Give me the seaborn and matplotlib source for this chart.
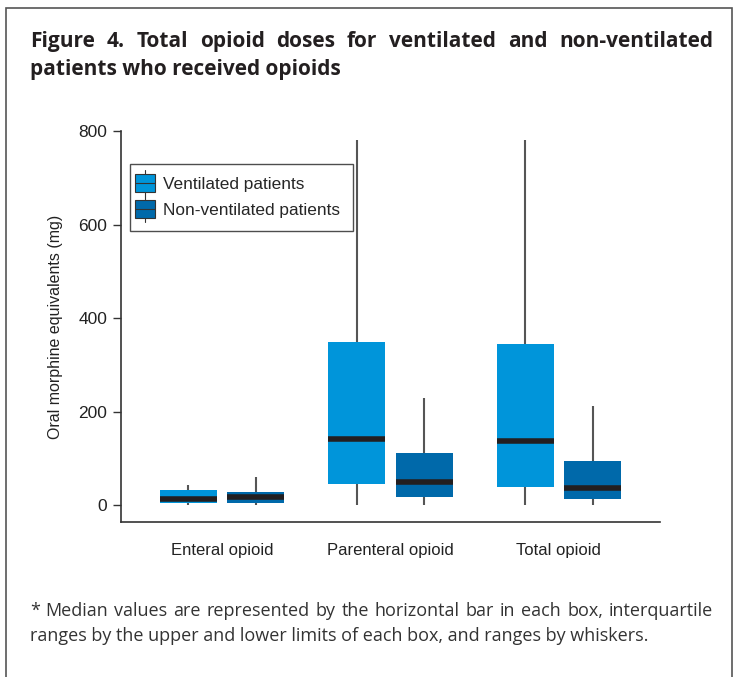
import numpy as np
import pandas as pd
import matplotlib
matplotlib.use("Agg")
import matplotlib.pyplot as plt
import seaborn as sns
from matplotlib.patches import Rectangle
from matplotlib.lines import Line2D
from matplotlib.legend_handler import HandlerBase

# Five-number summaries: min, q1, median, q3, max (mg)
categories = ["Enteral opioid", "Parenteral opioid", "Total opioid"]
groups = ["Ventilated patients", "Non-ventilated patients"]
ventilated = [
    [0, 4, 13, 32, 43],
    [0, 45, 141, 349, 780],
    [0, 39, 137, 344, 780],
]
non_ventilated = [
    [0, 4, 17, 28, 60],
    [0, 17, 49, 111, 229],
    [0, 13, 36, 94, 212],
]
y_ticks = [0, 200, 400, 600, 800]

title_lines = ["Figure 4. Total opioid doses for ventilated and non-ventilated",
               "patients who received opioids"]
note_lines = ["* Median values are represented by the horizontal bar in each box, interquartile",
              "ranges by the upper and lower limits of each box, and ranges by whiskers."]

colors = {"Ventilated patients": "#0095DA", "Non-ventilated patients": "#0069AA"}
median_color = "#231F20"
whisker_color = "#555555"

# Long table: each summary becomes five points, so quartiles land exactly on them
rows = []
for grp, summaries in zip(groups, [ventilated, non_ventilated]):
    for cat, summ in zip(categories, summaries):
        for v in summ:
            rows.append({"category": cat, "group": grp, "dose": v})
df = pd.DataFrame(rows)


class BoxHandler(HandlerBase):
    """Legend key drawn as a small box with median and whisker."""

    def create_artists(self, legend, orig_handle, xdescent, ydescent,
                       width, height, fontsize, trans):
        bw = width
        x0 = -xdescent - 6
        bh = 13
        y0 = -ydescent + (height - bh) / 2
        cx = x0 + bw / 2
        whisk = Line2D([cx, cx], [y0 - 3, y0 + bh + 3], color="#333333",
                       lw=0.8, transform=trans)
        box = Rectangle((x0, y0), bw, bh, facecolor=orig_handle.get_facecolor(),
                        edgecolor="#333333", lw=0.8, transform=trans)
        med = Line2D([x0, x0 + bw], [y0 + bh / 2, y0 + bh / 2], color="#333333",
                     lw=0.8, transform=trans)
        return [whisk, box, med]


def justified_line(fig, words_line, x0, x1, y, **kw):
    """Place words so the line fills x0..x1 (figure fraction)."""
    renderer = fig.canvas.get_renderer()
    words = words_line.split()
    widths = []
    for w in words:
        t = fig.text(0, 0, w, **kw)
        widths.append(t.get_window_extent(renderer).width / fig.bbox.width)
        t.remove()
    gap = (x1 - x0 - sum(widths)) / (len(words) - 1)
    x = x0
    for w, wd in zip(words, widths):
        fig.text(x, y, w, ha="left", va="baseline", **kw)
        x += wd + gap


sns.set_style("white")
plt.rcParams["font.family"] = ["Liberation Sans", "DejaVu Sans"]

fig = plt.figure(figsize=(7.39, 6.77), dpi=100)
ax = fig.add_axes([0.1637, 0.229, 0.7293, 0.5775])

sns.boxplot(data=df, x="category", y="dose", hue="group", order=categories,
            hue_order=groups, palette=colors, saturation=1, width=0.8, gap=0.15,
            whis=(0, 100), showcaps=False, legend=False, ax=ax,
            boxprops=dict(linewidth=0, edgecolor="none"),
            medianprops=dict(color=median_color, linewidth=4, solid_capstyle="butt"),
            whiskerprops=dict(color=whisker_color, linewidth=1.5))

ax.set_xlim(-0.6, 2.6)
ax.set_ylim(-36, 800)
ax.set_yticks(y_ticks)
ax.set_yticklabels([str(t) for t in y_ticks], fontsize=12.5, color="#222222")
ax.tick_params(axis="y", direction="out", length=6, width=1, color="#333333",
               left=True, pad=4)
ax.tick_params(axis="x", length=0, pad=15, labelsize=12, labelcolor="#222222")
ax.set_xlabel("")
ax.set_ylabel("Oral morphine equivalents (mg)", fontsize=11.5, color="#222222",
              labelpad=11)
sns.despine(ax=ax)
for s in ["left", "bottom"]:
    ax.spines[s].set_color("#333333")
    ax.spines[s].set_linewidth(1.2)

handles = [Rectangle((0, 0), 1, 1, facecolor=colors[g]) for g in groups]
leg = ax.legend(handles, groups, handler_map={Rectangle: BoxHandler()},
                loc="upper left", bbox_to_anchor=(0.017, 0.916), fontsize=12.4,
                frameon=True, fancybox=False, borderpad=0.75, borderaxespad=0,
                handlelength=1.16, handletextpad=0.0, labelspacing=0.64)
leg.get_frame().set_edgecolor("#222222")
leg.get_frame().set_linewidth(1.0)

# Outer frame of the figure panel
fig.patches.append(Rectangle((6 / 739, -0.05), 726 / 739, 1.05 - 8 / 677,
                             transform=fig.transFigure, fill=False,
                             edgecolor="#555555", linewidth=1.2))

title_kw = dict(fontsize=15, fontweight="bold", family=["Open Sans", "DejaVu Sans"],
                color="#231F20")
justified_line(fig, title_lines[0], 30 / 739, 713 / 739, 1 - 47 / 677, **title_kw)
fig.text(30 / 739, 1 - 75 / 677, title_lines[1], ha="left", va="baseline", **title_kw)

note_kw = dict(fontsize=13, family=["Open Sans", "DejaVu Sans"], color="#333333")
justified_line(fig, note_lines[0], 30 / 739, 713 / 739, 1 - 616 / 677, **note_kw)
fig.text(30 / 739, 1 - 641 / 677, note_lines[1], ha="left", va="baseline", **note_kw)

fig.savefig("out.png", dpi=100)
